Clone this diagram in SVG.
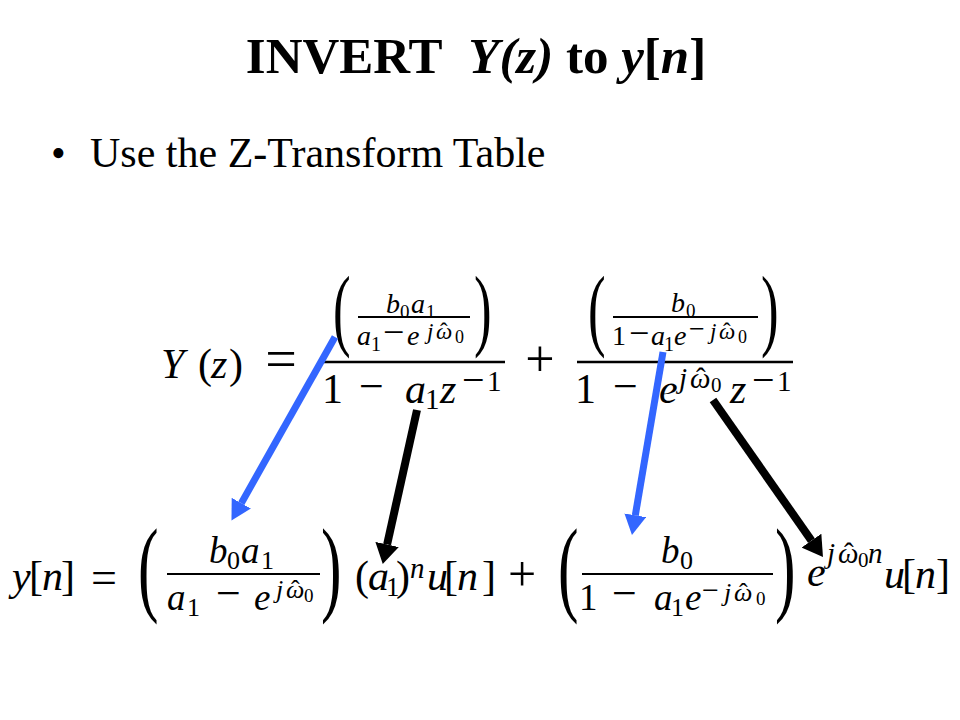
<svg xmlns="http://www.w3.org/2000/svg" width="960" height="720" viewBox="0 0 960 720" font-family="'Liberation Serif', serif">
<style>
.i { font-style: italic; }
.bar { stroke: #000; fill: none; }
.blue { stroke: #3366FF; stroke-width: 7; fill: none; }
.black { stroke: #000; stroke-width: 8; fill: none; }
</style>
<defs>
<marker id="hb" viewBox="0 0 20 22" markerWidth="20" markerHeight="22" refX="0" refY="11" orient="auto" markerUnits="userSpaceOnUse"><path d="M0,0 L20,11 L0,22 z" fill="#3366FF"/></marker>
<marker id="hk" viewBox="0 0 20 24" markerWidth="20" markerHeight="24" refX="0" refY="12" orient="auto" markerUnits="userSpaceOnUse"><path d="M0,0 L20,12 L0,24 z" fill="#000"/></marker>
</defs>
<rect width="960" height="720" fill="#fff"/>

<g id="title" font-family="'Liberation Serif', serif">
<text x="476" y="73" text-anchor="middle" font-size="51" font-weight="bold">INVERT<tspan class="i" dx="14"> Y(z)</tspan> to <tspan class="i">y</tspan>[<tspan class="i">n</tspan>]</text>
</g>

<g id="bullet" font-family="'Liberation Serif', serif">
<text x="51" y="167" font-size="42">•</text>
<text x="90" y="167" font-size="42">Use the Z-Transform Table</text>
</g>

<g id="lhs-top" font-family="'Liberation Serif', serif">
<text y="378" font-size="42"><tspan x="161" class="i">Y</tspan><tspan x="198">(</tspan><tspan x="211" class="i">z</tspan><tspan x="229">)</tspan></text>
<text x="281" y="378" font-size="56" text-anchor="middle">=</text>
</g>

<g id="term1-top" font-family="'Liberation Serif', serif">
<text transform="translate(333,339) scale(1.15,2)" font-size="46">(</text>
<text transform="translate(474,339) scale(1.15,2)" font-size="46">)</text>
<text font-size="28"><tspan x="386" y="313" class="i">b</tspan><tspan x="400" y="318" font-size="19">0</tspan><tspan x="411" y="313" class="i">a</tspan><tspan x="426" y="318" font-size="19">1</tspan></text>
<line class="bar" x1="358" y1="317" x2="470" y2="317" stroke-width="1.8"/>
<text font-size="28"><tspan x="357" y="345" class="i">a</tspan><tspan x="371" y="351" font-size="20">1</tspan><tspan x="383" y="345" font-size="38">−</tspan><tspan x="407" y="345" class="i">e</tspan><tspan x="427" y="339" font-size="23" class="i">j</tspan><tspan x="436" y="339" font-size="23" class="i">ω</tspan><tspan x="440" y="339" font-size="23">ˆ</tspan><tspan x="455" y="343" font-size="18">0</tspan></text>
<line class="bar" x1="323" y1="362" x2="505" y2="362" stroke-width="2.5"/>
<text font-size="42"><tspan x="322" y="403">1</tspan><tspan x="359" y="401" font-size="44">−</tspan><tspan x="405" y="403" class="i">a</tspan><tspan x="425" y="409" font-size="29">1</tspan><tspan x="440" y="403" class="i">z</tspan><tspan x="462" y="393" font-size="40">−</tspan><tspan x="487" y="391" font-size="29">1</tspan></text>
</g>

<g id="plus-top" font-family="'Liberation Serif', serif">
<text x="540" y="376" font-size="52" text-anchor="middle">+</text>
</g>

<g id="term2-top" font-family="'Liberation Serif', serif">
<text transform="translate(588,339) scale(1.15,2)" font-size="46">(</text>
<text transform="translate(761,339) scale(1.15,2)" font-size="46">)</text>
<text font-size="28"><tspan x="671" y="312" class="i">b</tspan><tspan x="686" y="317" font-size="19">0</tspan></text>
<line class="bar" x1="613" y1="317" x2="758" y2="317" stroke-width="1.8"/>
<text font-size="28"><tspan x="612" y="345">1</tspan><tspan x="629" y="345" font-size="36">−</tspan><tspan x="651" y="345" class="i">a</tspan><tspan x="664" y="351" font-size="20">1</tspan><tspan x="674" y="345" class="i">e</tspan><tspan x="689" y="338" font-size="28">−</tspan><tspan x="710" y="339" font-size="23" class="i">j</tspan><tspan x="719" y="339" font-size="23" class="i">ω</tspan><tspan x="723" y="339" font-size="23">ˆ</tspan><tspan x="738" y="343" font-size="18">0</tspan></text>
<line class="bar" x1="577" y1="362" x2="793" y2="362" stroke-width="2.5"/>
<text font-size="42"><tspan x="575" y="403">1</tspan><tspan x="613" y="401" font-size="44">−</tspan><tspan x="659" y="403" class="i">e</tspan><tspan x="679" y="388" font-size="29" class="i">j</tspan><tspan x="690" y="388" font-size="29" class="i">ω</tspan><tspan x="696" y="388" font-size="29">ˆ</tspan><tspan x="711" y="392" font-size="21">0</tspan><tspan x="730" y="403" class="i">z</tspan><tspan x="752" y="393" font-size="40">−</tspan><tspan x="777" y="391" font-size="29">1</tspan></text>
</g>

<g id="lhs-bottom" font-family="'Liberation Serif', serif">
<text y="590" font-size="42"><tspan x="12" class="i">y</tspan><tspan x="29">[</tspan><tspan x="42" class="i">n</tspan><tspan x="61">]</tspan></text>
<text x="91" y="593" font-size="46">=</text>
</g>

<g id="term1-bottom" font-family="'Liberation Serif', serif">
<text transform="translate(138,602) scale(1.1,1.9)" font-size="56">(</text>
<text transform="translate(321,602) scale(1.1,1.9)" font-size="56">)</text>
<text font-size="37"><tspan x="209" y="563" class="i">b</tspan><tspan x="227" y="569" font-size="26">0</tspan><tspan x="241" y="563" class="i">a</tspan><tspan x="261" y="569" font-size="26">1</tspan></text>
<line class="bar" x1="167" y1="574" x2="320" y2="574" stroke-width="2.2"/>
<text font-size="37"><tspan x="167" y="610" class="i">a</tspan><tspan x="187" y="616" font-size="26">1</tspan><tspan x="216" y="608" font-size="44">−</tspan><tspan x="254" y="610" class="i">e</tspan><tspan x="276" y="598" font-size="26" class="i">j</tspan><tspan x="286" y="598" font-size="26" class="i">ω</tspan><tspan x="291" y="598" font-size="26">ˆ</tspan><tspan x="304" y="602" font-size="19">0</tspan></text>
<text y="590" font-size="42"><tspan x="355">(</tspan><tspan x="368" class="i">a</tspan><tspan x="386" y="596" font-size="27">1</tspan><tspan x="396" y="590">)</tspan><tspan x="410" y="578" font-size="29" class="i">n</tspan><tspan x="427" y="590" class="i">u</tspan><tspan x="444">[</tspan><tspan x="457" class="i">n</tspan><tspan x="482">]</tspan></text>
</g>

<g id="plus-bottom" font-family="'Liberation Serif', serif">
<text x="508" y="591" font-size="50">+</text>
</g>

<g id="term2-bottom" font-family="'Liberation Serif', serif">
<text transform="translate(558,602) scale(1.1,1.9)" font-size="56">(</text>
<text transform="translate(775,602) scale(1.1,1.9)" font-size="56">)</text>
<text font-size="37"><tspan x="661" y="563" class="i">b</tspan><tspan x="680" y="569" font-size="26">0</tspan></text>
<line class="bar" x1="582" y1="574" x2="773" y2="574" stroke-width="2.2"/>
<text font-size="37"><tspan x="579" y="610">1</tspan><tspan x="612" y="608" font-size="44">−</tspan><tspan x="654" y="610" class="i">a</tspan><tspan x="671" y="616" font-size="26">1</tspan><tspan x="685" y="610" class="i">e</tspan><tspan x="702" y="600" font-size="30">−</tspan><tspan x="724" y="601" font-size="26" class="i">j</tspan><tspan x="734" y="601" font-size="26" class="i">ω</tspan><tspan x="739" y="601" font-size="26">ˆ</tspan><tspan x="756" y="605" font-size="19">0</tspan></text>
<text font-size="42"><tspan x="807" y="586" class="i">e</tspan><tspan x="827" y="563" font-size="29" class="i">j</tspan><tspan x="838" y="563" font-size="29" class="i">ω</tspan><tspan x="844" y="563" font-size="29">ˆ</tspan><tspan x="858" y="567" font-size="21">0</tspan><tspan x="868" y="563" font-size="29" class="i">n</tspan><tspan x="884" y="588" class="i">u</tspan><tspan x="902" y="588">[</tspan><tspan x="915" y="588" class="i">n</tspan><tspan x="936" y="588">]</tspan></text>
</g>

<g id="connectors">
<line class="blue" x1="335" y1="337" x2="241.3" y2="503.2" marker-end="url(#hb)"/>
<line class="black" x1="417" y1="410" x2="387.1" y2="544.5" marker-end="url(#hk)"/>
<line class="blue" x1="663" y1="352" x2="635.3" y2="515.3" marker-end="url(#hb)"/>
<line class="black" x1="713" y1="400" x2="811.5" y2="540.6" marker-end="url(#hk)"/>
</g>
</svg>
